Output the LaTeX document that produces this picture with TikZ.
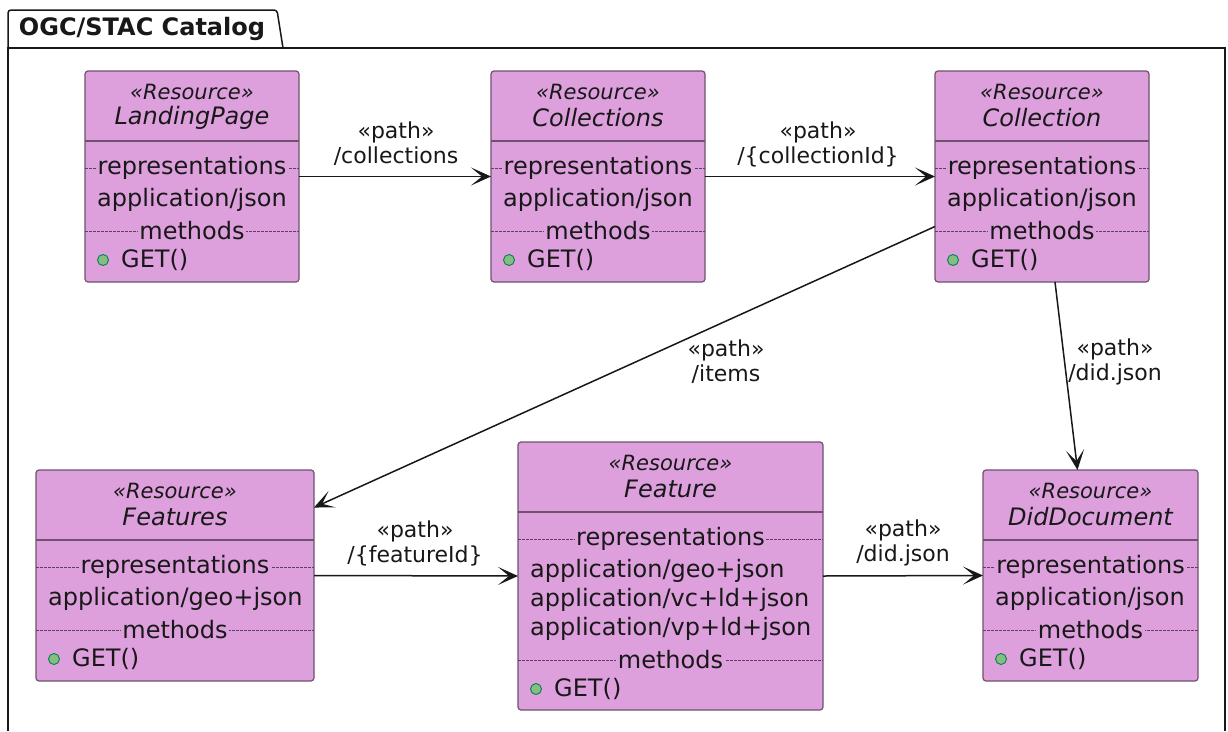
\documentclass[tikz,border=0pt]{standalone}
\usepackage{fontspec}
\setmainfont{DejaVu Sans}
\usetikzlibrary{arrows.meta,calc}

\definecolor{plumfill}{HTML}{DDA0DD}
\definecolor{boxline}{HTML}{6E526E}
\definecolor{dashline}{HTML}{5E3F5E}
\definecolor{dotfill}{HTML}{84BE84}
\definecolor{dotline}{HTML}{038048}
\definecolor{ink}{HTML}{181818}

\tikzset{
  x=1pt, y=-1pt,
  every node/.style={text=ink},
  resbox/.style={draw=boxline, fill=plumfill, rounded corners=3pt, line width=1.2pt, outer sep=0pt, inner sep=0pt},
  stereo/.style={font=\fontsize{21}{24}\selectfont\itshape, inner sep=0pt},
  rname/.style={font=\fontsize{24}{28}\selectfont\itshape, inner sep=0pt},
  body/.style={font=\fontsize{24}{28}\selectfont, inner sep=0pt},
  sepline/.style={draw=boxline, line width=1.2pt},
  dsep/.style={draw=dashline, line width=0.7pt, dash pattern=on 2.5pt off 1.5pt},
  seclabel/.style={body, fill=plumfill, inner xsep=1.5pt, inner ysep=0pt},
  elabel/.style={font=\fontsize{22}{25}\selectfont, align=center, inner sep=0pt},
  arr/.style={draw=ink, line width=1.5pt, -{Stealth[length=20pt,width=18pt,inset=11pt]}},
  frame/.style={draw=ink, line width=1.5pt},
}

% #1 name, #2 left, #3 top, #4 right, #5 bottom, #6 title, #7 representation rows, #8 number of rows
\newcommand\resource[8]{%
  \node[resbox, anchor=north west, minimum width={(#4-#2)*1pt}, minimum height={(#5-#3)*1pt}] (#1) at (#2,#3) {};
  \node[stereo] (#1-st) at ([yshift=-21pt]#1.north) {«Resource»};
  \node[rname] (#1-nm) at ([yshift=-47pt]#1.north) {#6};
  \draw[sepline] ([yshift=-70pt]#1.north west) -- ([yshift=-70pt]#1.north east);
  \draw[dsep] ([yshift=-97pt]#1.north west) -- ([yshift=-97pt]#1.north east);
  \node[seclabel] (#1-rep) at ([yshift=-97pt]#1.north) {representations};
  \foreach \r [count=\i] in {#7} {
    \node[body, anchor=west] (#1-r\i) at ([xshift=12pt, yshift={(-129-29*(\i-1))*1pt}]#1.north west) {\r};
  }
  \draw[dsep] ([yshift={(-131-29*#8)*1pt}]#1.north west) -- ([yshift={(-131-29*#8)*1pt}]#1.north east);
  \node[seclabel] (#1-mt) at ([yshift={(-131-29*#8)*1pt}]#1.north) {methods};
  \draw[draw=dotline, fill=dotfill, line width=0.9pt] ([xshift=18pt, yshift={(-160-29*#8)*1pt}]#1.north west) circle (5.5pt);
  \node[body, anchor=west] (#1-get) at ([xshift=36pt, yshift={(-160-29*#8)*1pt}]#1.north west) {GET()};
}

\begin{document}
\begin{tikzpicture}
  \useasboundingbox (0,0) rectangle (1228,731);
  \fill[white] (0,0) rectangle (1228,731);

  % package frame with its tab
  \draw[frame] (8,731) -- (8,48) -- (1225,48) -- (1225,731);
  \draw[frame] (8,48) [rounded corners=3pt] -- (8,10) -- (277,10) [sharp corners] -- (283,48);
  \node[font=\bfseries\fontsize{24}{28}\selectfont, inner sep=0pt] (pkg) at (142,29) {OGC/STAC Catalog};

  % resources
  \resource{lp}{85}{71}{299}{282}{LandingPage}{application/json}{1}
  \resource{cs}{491}{71}{705}{282}{Collections}{application/json}{1}
  \resource{c}{935}{71}{1149}{282}{Collection}{application/json}{1}
  \resource{fs}{36}{470}{314}{681}{Features}{application/geo+json}{1}
  \resource{f}{518}{442}{823}{710}{Feature}{application/geo+json,application/vc+ld+json,application/vp+ld+json}{3}
  \resource{dd}{983}{470}{1198}{681}{DidDocument}{application/json}{1}

  % paths between resources
  \draw[arr] (lp.east) -- (cs.west);
  \draw[arr] (cs.east) -- (c.west);
  \draw[arr] ([yshift=-50pt]c.west) -- ([yshift=68pt]fs.east);
  \draw[arr] ([xshift=13pt]c.south) -- ([xshift=-13pt]dd.north);
  \draw[arr] (fs.east) -- (f.west);
  \draw[arr] (f.east) -- (dd.west);

  % path labels
  \node[elabel] (l1) at (396,144) {«path»\\/collections};
  \node[elabel] (l2) at (818,144) {«path»\\/\{collectionId\}};
  \node[elabel] (l3) at (726,362) {«path»\\/items};
  \node[elabel] (l4) at (1115,362) {«path»\\/did.json};
  \node[elabel] (l5) at (415,543) {«path»\\/\{featureId\}};
  \node[elabel] (l6) at (903,543) {«path»\\/did.json};
\end{tikzpicture}
\end{document}
